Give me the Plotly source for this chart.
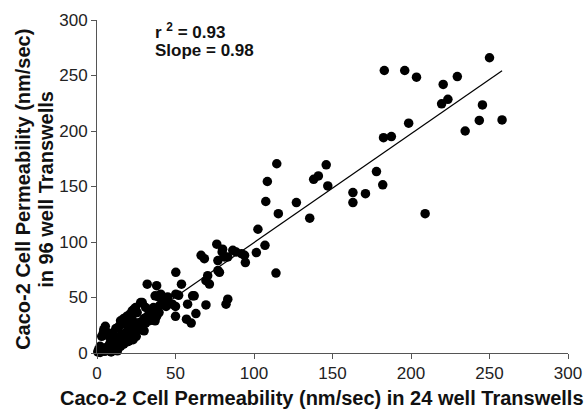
import plotly.graph_objects as go

# Caco-2 permeability (nm/sec): 24-well (x) vs 96-well (y) Transwells
x_24well = [
    250, 183, 196, 203.5, 220.5, 229.5, 219.5, 223.5, 245.5, 243.5, 258, 234.5, 198.5, 182.5, 187.5, 209,
    146, 138, 141, 147, 178, 182, 163, 163, 171, 135.5, 127,
    114.5, 108.5, 107.5, 115.5, 102.5, 107, 101.5, 94, 92, 94.5, 114,
    76.3, 80, 79.7, 86.5, 88.6, 81.2, 83.3, 66.3, 68.4, 77, 77, 78, 70.5, 69.4, 71.6, 61.9, 83.3, 82.2, 69.4,
    50.2, 32, 38, 53.8, 40.6, 38.5, 45, 50.2, 52, 60.9, 28.8, 42, 45, 48, 44, 40, 50, 57.7,
    23.5, 25.6, 39.5, 50, 63, 57, 60, 22.4, 33, 37,
    0.5, 1, 2, 3, 4, 2, 5, 6, 7, 8, 9, 10, 11, 12, 13, 14, 15, 16, 17, 18, 19, 20, 21, 22, 23, 24, 25,
    26, 27, 28, 29, 30, 31, 32, 33, 34, 35, 36, 37, 31, 27.8, 24.6, 22.4, 5.3, 4.3, 4, 3, 6, 8, 10, 12,
    14, 16, 18, 20, 11, 15, 19, 23, 20.3, 27.8, 17, 25, 30, 35, 38, 13, 9,
    15, 17, 19, 21,
]
y_96well = [
    266, 254.5, 254.5, 248.5, 242, 249, 224.5, 228.5, 223.5, 209.5, 210, 200, 207, 194, 195, 125.5,
    169.5, 156.5, 159.5, 150.5, 163.5, 151.5, 144.5, 135.5, 143.5, 121.5, 135.5,
    170.5, 154.5, 136.5, 125.5, 111.5, 97, 90.5, 88, 89.5, 81.5, 72,
    98, 93.5, 91, 92.5, 91, 86.5, 86.5, 88, 85, 83.3, 74.3, 72.7, 69.7, 65.2, 62.1, 51.5, 48.5, 44, 43.3,
    72.7, 62, 60.6, 62, 53, 51, 50.5, 53, 52, 51.5, 45.5, 46, 45, 44, 42, 43, 42, 44,
    39.4, 36.4, 36.4, 33, 35.5, 30.5, 27, 30.3, 30.3, 29,
    1, 3, 0.5, 2, 4, 6, 1.5, 5, 3, 8, 6, 10, 7, 12, 9, 14, 11, 17, 13, 18, 15, 21, 17, 23, 19, 25, 21,
    27, 23, 28, 25, 31, 27, 33, 29, 35, 38, 41, 51.5, 41, 45.5, 41, 38, 24, 21, 18, 15, 19, 14, 18, 22,
    24, 26, 29, 27, 4, 6, 10, 12, 10.6, 21.2, 8, 15, 20, 30, 33, 2, 1,
    29, 31, 33, 35,
]

# regression line
fit_slope = 0.98
fit_intercept = 1.5
fit_x = [0, 258]
fit_y = [fit_slope * v + fit_intercept for v in fit_x]

x_ticks = [0, 50, 100, 150, 200, 250, 300]
y_ticks = [0, 50, 100, 150, 200, 250, 300]

FONT = "Liberation Sans, Arial, sans-serif"

fig = go.Figure()
fig.add_trace(go.Scatter(
    x=x_24well, y=y_96well, mode="markers",
    marker=dict(color="black", size=9.5, line=dict(width=0)),
    cliponaxis=False, showlegend=False, hoverinfo="x+y",
))
fig.add_trace(go.Scatter(
    x=fit_x, y=fit_y, mode="lines",
    line=dict(color="black", width=1.2),
    showlegend=False, hoverinfo="skip",
))

axis_common = dict(
    range=[0, 300], showgrid=False, zeroline=False, showline=True, automargin=False,
    linecolor="#555", linewidth=1, ticks="outside", ticklen=5, tickcolor="#555",
    tickfont=dict(family=FONT, size=17, color="#222"),
)
fig.update_xaxes(**axis_common, tickvals=x_ticks)
fig.update_yaxes(**axis_common, tickvals=y_ticks)

title_font = dict(family=FONT, size=20, color="#111")
# x-axis title
fig.add_annotation(
    x=0.478, y=0, xref="paper", yref="paper", xanchor="center", yanchor="middle", yshift=-45,
    text="<b>Caco-2 Cell Permeability (nm/sec) in 24 well Transwells</b>",
    showarrow=False, font=title_font,
)
# y-axis title (two lines)
fig.add_annotation(
    x=0, y=0.49, xref="paper", yref="paper", xanchor="center", yanchor="middle", xshift=-74,
    text="<b>Caco-2 Cell Permeability (nm/sec)</b>", textangle=-90,
    showarrow=False, font=title_font,
)
fig.add_annotation(
    x=0, y=0.49, xref="paper", yref="paper", xanchor="center", yanchor="middle", xshift=-51,
    text="<b>in 96 well Transwells</b>", textangle=-90,
    showarrow=False, font=title_font,
)

stat_font = dict(family=FONT, size=17, color="#111")
fig.add_annotation(
    x=0.119, y=0.967, xref="paper", yref="paper", xanchor="left", yanchor="middle",
    text="<b>r <sup>2</sup> = 0.93</b>", showarrow=False, font=stat_font,
)
fig.add_annotation(
    x=0.119, y=0.908, xref="paper", yref="paper", xanchor="left", yanchor="middle",
    text="<b>Slope = 0.98</b>", showarrow=False, font=stat_font,
)

fig.update_layout(
    width=588, height=411,
    margin=dict(l=97, r=20, t=20, b=58),
    paper_bgcolor="white", plot_bgcolor="white",
)

fig.write_html("out.html", config={"displayModeBar": False},
               post_script="document.body.style.margin='0px';")
